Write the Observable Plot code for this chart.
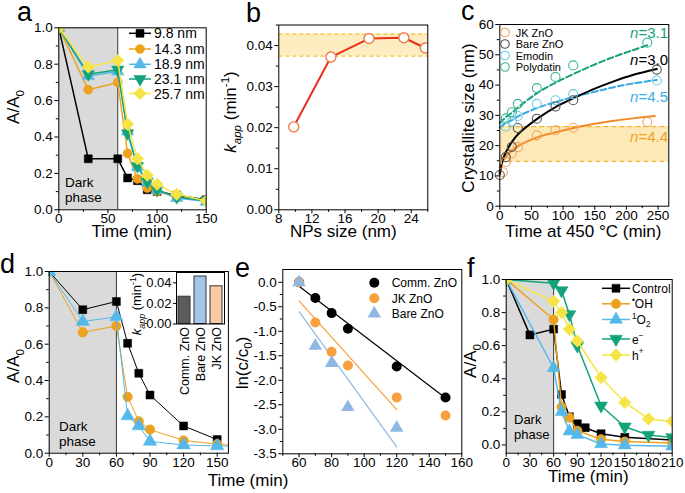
<!DOCTYPE html>
<html><head><meta charset="utf-8">
<script src="https://cdn.jsdelivr.net/npm/d3@7"></script>
<script src="https://cdn.jsdelivr.net/npm/@observablehq/plot@0.6"></script>
<style>
body{margin:0;background:#fff;}
#fig{position:relative;width:685px;height:493px;overflow:hidden;background:#fff;}
</style></head><body><div id="fig"></div>
<script>
// ================= DATA =================
const darkPhase = [0, 60];

// panel a
const aTime = [0,30,60,70,80,90,100,120,150];
const aLabels = ["9.8 nm","14.3 nm","18.9 nm","23.1 nm","25.7 nm"];
const a_9_8  = [1.00,0.28,0.28,0.175,0.16,0.11,0.10,0.08,0.055];
const a_14_3 = [1.00,0.66,0.70,0.31,0.17,0.12,0.10,0.07,0.05];
const a_18_9 = [1.00,0.735,0.76,0.43,0.235,0.15,0.11,0.065,0.045];
const a_23_1 = [1.00,0.745,0.77,0.42,0.24,0.155,0.11,0.07,0.05];
const a_25_7 = [1.00,0.785,0.82,0.47,0.28,0.19,0.14,0.085,0.05];
const aXTicks = [0,50,100,150], aXMinor = [25,75,125];
const aYTicks = [0,0.2,0.4,0.6,0.8,1.0], aYMinor = [0.1,0.3,0.5,0.7,0.9];

// panel b
const bSize = [9.8,14.3,18.9,23.1,25.7];
const bKapp = [0.0202,0.0372,0.0417,0.0419,0.0394];
const bBand = [0.0374,0.0428];
const bXTicks = [8,12,16,20,24], bXMinor = [10,14,18,22,26];
const bYTicks = [0,0.01,0.02,0.03,0.04], bYMinor = [0.005,0.015,0.025,0.035,0.045];

// panel c
const cLabels = ["JK ZnO","Bare ZnO","Emodin","Polydatin"];
const cTimeJK = [5,9.5,19,28.5,58.5,88,116,233];
const cJK     = [11.2,14.6,17.4,19.5,23.4,25.1,25.9,27.8];
const cTimeBare = [0,9.5,19,28.5,58.5,88,116,248];
const cBare   = [10.3,16.2,19.6,25.8,28.9,32.9,35.0,45.1];
const cTimeEmo = [9.5,19,28.5,58.5,88,116,248];
const cEmodin = [26.3,28.0,29.8,33.8,35.0,37.0,41.5];
const cTimePoly = [9.5,19,28.5,58.5,88,116,233];
const cPoly   = [29.0,31.0,33.8,39.0,42.7,46.5,54.0];
// fitted curves
const cFitTBare = [0,5,10,20,30,60,90,120,150,180,210,248];
const cFitBare  = [10.5,15.5,18.0,21.5,24.0,29.0,33.0,36.0,38.8,41.2,43.3,45.3];
const cFitTJK   = [0,5,10,20,30,60,90,120,150,180,210,245];
const cFitJK    = [13.0,15.0,16.5,18.5,20.0,22.8,24.5,26.0,27.2,28.2,29.0,29.8];
const cFitTEmo  = [0,5,10,20,30,60,90,120,150,180,210,248];
const cFitEmo   = [26.0,26.8,27.5,28.5,29.8,32.5,34.5,36.3,37.8,39.3,40.5,41.7];
const cFitTPoly = [0,5,10,20,30,60,90,120,150,180,210,235];
const cFitPoly  = [27.5,28.5,29.5,31.0,32.8,37.5,41.0,44.0,46.8,49.3,51.5,53.3];
const cBand = [14.8,26.3];
const cExponents = ["3.1","3.0","4.5","4.4"];
const cXTicks = [0,50,100,150,200,250], cXMinor = [25,75,125,175,225];
const cYTicks = [0,10,20,30,40,50,60], cYMinor = [5,15,25,35,45,55];

// panel d
const dTime = [0,30,60,70,80,90,120,150,180];
const dComm = [1.00,0.79,0.835,0.605,0.44,0.32,0.15,0.075,null];
const dJK   = [1.00,0.665,0.70,0.31,0.175,0.13,0.07,0.05,0.035];
const dBare = [1.00,0.725,0.75,0.205,0.15,0.065,0.045,0.04,0.035];
const dXTicks = [0,30,60,90,120,150], dXMinor = [15,45,75,105,135];
const insetCats = ["Comm. ZnO","Bare ZnO","JK ZnO"];
const insetK = [0.0265,0.0461,0.0366];
const insetYTicks = [0,0.02,0.04];

// panel e
const eLabels = ["Comm. ZnO","JK ZnO","Bare ZnO"];
const eTimeComm = [60,70,80,90,120,150];
const eComm = [0,-0.32,-0.63,-0.95,-1.72,-2.35];
const eTimeJK = [60,70,80,90,120,150];
const eJK = [0,-0.82,-1.42,-1.70,-2.35,-2.72];
const eTimeBare = [60,70,80,90,120];
const eBare = [0,-1.30,-1.65,-2.55,-2.97];
const eFitComm = [[60,-0.08],[150,-2.36]];
const eFitJK   = [[60,-0.38],[120,-2.60]];
const eFitBare = [[60,-0.60],[120,-3.36]];
const eXTicks = [60,80,100,120,140,160], eXMinor = [50,70,90,110,130,150];
const eYTicks = [0,-0.5,-1,-1.5,-2,-2.5,-3,-3.5], eYMinor = [-0.25,-0.75,-1.25,-1.75,-2.25,-2.75,-3.25];

// panel f
const fTimeCtrl = [0,30,60,70,80,90,100,120,150,210];
const fCtrl = [1.00,0.665,0.70,0.305,0.17,0.128,0.104,0.068,0.046,0.03];
const fTimeOH = [0,60,70,80,90,120,150,210];
const fOH = [1.00,0.758,0.23,0.165,0.085,0.034,0.02,0.012];
const fTimeO2 = [0,60,70,80,90,120,150,210];
const fO2 = [1.00,0.465,0.20,0.083,0.062,0.006,-0.002,-0.008];
const fTimeE = [0,60,70,80,90,120,150,180,210];
const fE = [1.00,0.978,0.934,0.789,0.60,0.237,0.11,0.06,0.045];
const fTimeH = [0,60,70,80,90,120,150,180,210];
const fH = [1.00,0.868,0.80,0.70,0.628,0.408,0.257,0.157,0.142];
const fXTicks = [0,30,60,90,120,150,180,210], fXMinor = [15,45,75,105,135,165,195];

// ================= STYLE =================
const W = 685, H = 493;
const FONT = "'Liberation Sans', Arial, Helvetica, sans-serif";
const ORANGE = "#eca21e", LBLUE = "#55b8ea", GREEN = "#14a27a", YELLOW = "#f6e446";
const fig = document.getElementById("fig");

const triDown = {draw(ctx, size){ const y = -Math.sqrt(size/(Math.sqrt(3)*3)); ctx.moveTo(0,-y*2); ctx.lineTo(-Math.sqrt(3)*y, y); ctx.lineTo(Math.sqrt(3)*y, y); ctx.closePath(); }};
const diamondSq = {draw(ctx, size){ const r = Math.sqrt(size/2); ctx.moveTo(0,-r); ctx.lineTo(r,0); ctx.lineTo(0,r); ctx.lineTo(-r,0); ctx.closePath(); }};
const SQ = d3.symbolSquare, CI = d3.symbolCircle, TR = d3.symbolTriangle;

const rows = (ts, vs) => ts.map((t,i) => ({t, v: vs[i]})).filter(d => d.v != null);
const f1 = d => d.toFixed(1), f2 = d => d.toFixed(2), f0 = d => String(d);

function axes(xM, xm, xf, yM, ym, yf) {
  return [
    Plot.axisX(xM, {tickSize: 4, tickPadding: 0, tickFormat: xf, label: null}),
    Plot.axisX(xm, {tickSize: 2.5, tickFormat: () => "", label: null}),
    Plot.axisY(yM, {tickSize: 4, tickPadding: 2, tickFormat: yf, label: null}),
    Plot.axisY(ym, {tickSize: 2.5, tickFormat: () => "", label: null})
  ];
}
function series(data, color, sym, r, lw = 1.5, extraDot = {}) {
  return [
    Plot.line(data, {x: "t", y: "v", stroke: color, strokeWidth: lw, clip: true}),
    Plot.dot(data, {x: "t", y: "v", symbol: sym, r, fill: color, stroke: color, strokeWidth: 0.5, clip: true, ...extraDot})
  ];
}
function panel(box, xd, yd, marks, extra = {}) {
  const svg = Plot.plot({
    width: W, height: H,
    marginLeft: box[0], marginTop: box[1], marginRight: W - box[2], marginBottom: H - box[3],
    x: {domain: xd, label: null, ...(extra.x || {})},
    y: {domain: yd, label: null, ...(extra.y || {})},
    color: {type: "identity"},
    style: {background: "transparent", fontFamily: FONT, fontSize: "13.5px", color: "#000", overflow: "visible", position: "absolute", left: "0px", top: "0px", maxWidth: "none"},
    marks
  });
  fig.appendChild(svg);
}
const darkMarks = () => [
  Plot.rect([darkPhase], {x1: d => d[0], x2: d => d[1], fill: "#dadada"}),
  Plot.ruleX([darkPhase[1]], {stroke: "#333", strokeWidth: 1})
];

// ---------- panel a ----------
panel([58.3, 27.3, 205.7, 209.3], [0,150], [0,1], [
  ...darkMarks(),
  ...series(rows(aTime, a_9_8), "#000", SQ, 4.5),
  ...series(rows(aTime, a_14_3), ORANGE, CI, 4.6),
  ...series(rows(aTime, a_18_9), LBLUE, TR, 4.6),
  ...series(rows(aTime, a_23_1), GREEN, triDown, 4.6),
  ...series(rows(aTime, a_25_7), YELLOW, diamondSq, 5),
  Plot.frame({stroke: "#000"}),
  ...axes(aXTicks, aXMinor, f0, aYTicks, aYMinor, f1)
]);

// ---------- panel b ----------
panel([278.3, 24.5, 427.3, 209.3], [8,26], [0,0.045], [
  Plot.rect([bBand], {y1: d => d[0], y2: d => d[1], fill: "#fdecc0"}),
  Plot.ruleY(bBand, {stroke: "#f5c033", strokeWidth: 1.3, strokeDasharray: "4,3"}),
  Plot.line(rows(bSize, bKapp), {x: "t", y: "v", stroke: "#e8301c", strokeWidth: 2}),
  Plot.dot(rows(bSize, bKapp), {x: "t", y: "v", r: 5, fill: "#fff", stroke: "#f27d4a", strokeWidth: 1.4, clip: true}),
  Plot.frame({stroke: "#000"}),
  ...axes(bXTicks, bXMinor, f0, bYTicks, bYMinor, f2)
]);

// ---------- panel c ----------
const cCols = {jk: "#f5a35c", bare: "#555", emo: "#6ccbe8", poly: "#3fb59b"};
panel([499.3, 24, 668.3, 205.7], [0,267], [0,60], [
  Plot.rect([cBand], {y1: d => d[0], y2: d => d[1], fill: "#fde9b8"}),
  Plot.ruleY(cBand, {stroke: "#f0b830", strokeWidth: 1.2, strokeDasharray: "5,3"}),
  Plot.line(rows(cFitTPoly, cFitPoly), {x: "t", y: "v", stroke: "#14a07a", strokeWidth: 2, strokeDasharray: "6,3", curve: "catmull-rom"}),
  Plot.line(rows(cFitTEmo, cFitEmo), {x: "t", y: "v", stroke: "#35a8e2", strokeWidth: 2, strokeDasharray: "6,3", curve: "catmull-rom"}),
  Plot.line(rows(cFitTJK, cFitJK), {x: "t", y: "v", stroke: "#f28a2a", strokeWidth: 2, curve: "catmull-rom"}),
  Plot.line(rows(cFitTBare, cFitBare), {x: "t", y: "v", stroke: "#000", strokeWidth: 2, curve: "catmull-rom"}),
  Plot.dot(rows(cTimeJK, cJK), {x: "t", y: "v", r: 4.5, stroke: cCols.jk, strokeWidth: 1.1}),
  Plot.dot(rows(cTimeBare, cBare), {x: "t", y: "v", r: 4.5, stroke: cCols.bare, strokeWidth: 1.1}),
  Plot.dot(rows(cTimeEmo, cEmodin), {x: "t", y: "v", r: 4.5, stroke: cCols.emo, strokeWidth: 1.1}),
  Plot.dot(rows(cTimePoly, cPoly), {x: "t", y: "v", r: 4.5, stroke: cCols.poly, strokeWidth: 1.1}),
  Plot.frame({stroke: "#000"}),
  ...axes(cXTicks, cXMinor, f0, cYTicks, cYMinor, f0)
]);

// ---------- panel d ----------
panel([48.7, 271, 227.9, 452.7], [0,160], [0,1], [
  ...darkMarks(),
  ...series(rows(dTime, dComm), "#000", SQ, 4.5, 1),
  ...series(rows(dTime, dJK), ORANGE, CI, 4.8, 1),
  ...series(rows(dTime, dBare), LBLUE, TR, 5, 1),
  Plot.frame({stroke: "#000"}),
  ...axes(dXTicks, dXMinor, f0, aYTicks, aYMinor, f1)
]);
// inset
panel([176, 272, 224, 323.5], insetCats, [0,0.05], [
  Plot.frame({fill: "#fff", stroke: null}),
  Plot.barY(insetCats.map((c,i) => ({c, k: insetK[i]})), {x: "c", y: "k", fill: d => ({"Comm. ZnO": "#5c5c5c", "Bare ZnO": "#a3c6e8", "JK ZnO": "#fdc9a0"})[d.c], stroke: "#333", strokeWidth: 1}),
  Plot.frame({stroke: "#000"}),
  Plot.axisY(insetYTicks, {tickSize: 3, tickPadding: 2, tickFormat: f2, label: null, fontSize: 13}),
  Plot.axisX({tickSize: 0, tickPadding: 3, tickRotate: -90, label: null, fontSize: 12.5})
], {x: {type: "band", paddingInner: 0.22, paddingOuter: 0.1}});

// ---------- panel e ----------
const EOR = "#f7a03d", EBL = "#8fb7e3";
panel([282.3, 269, 461.3, 453.3], [50,160], [-3.5,0.26], [
  Plot.line(eFitComm, {x: d => d[0], y: d => d[1], stroke: "#000", strokeWidth: 1.2}),
  Plot.line(eFitJK, {x: d => d[0], y: d => d[1], stroke: EOR, strokeWidth: 1.2}),
  Plot.line(eFitBare, {x: d => d[0], y: d => d[1], stroke: EBL, strokeWidth: 1.2}),
  Plot.dot(rows(eTimeComm, eComm), {x: "t", y: "v", r: 5, fill: "#000"}),
  Plot.dot(rows(eTimeJK, eJK), {x: "t", y: "v", r: 5, fill: EOR}),
  Plot.dot(rows(eTimeBare, eBare), {x: "t", y: "v", r: 5, symbol: TR, fill: EBL}),
  Plot.frame({stroke: "#000"}),
  ...axes(eXTicks, eXMinor, f0, eYTicks, eYMinor, f1)
]);

// ---------- panel f ----------
panel([505.7, 279, 671.7, 452.7], [0,210], [-0.05,1.0], [
  ...darkMarks(),
  ...series(rows(fTimeCtrl, fCtrl), "#000", SQ, 4.5),
  ...series(rows(fTimeOH, fOH), ORANGE, CI, 4.8),
  ...series(rows(fTimeO2, fO2), LBLUE, TR, 4.8),
  ...series(rows(fTimeE, fE), GREEN, triDown, 4.8),
  ...series(rows(fTimeH, fH), YELLOW, diamondSq, 5),
  Plot.frame({stroke: "#000"}),
  ...axes(fXTicks, fXMinor, f0, aYTicks, aYMinor, f1)
]);

// ================= TEXT OVERLAY (titles, legends) =================
const ov = d3.select(fig).append("svg").attr("width", W).attr("height", H)
  .style("position", "absolute").style("left", "0px").style("top", "0px")
  .attr("font-family", FONT);

function rich(sel, parts, size) {
  let shift = 0;
  for (const p of parts) {
    const [s, k = ""] = Array.isArray(p) ? p : [p, ""];
    let target = 0, fs = size;
    if (k.includes("sub")) { target = size * 0.28; fs = size * 0.68; }
    if (k.includes("sup")) { target = -size * 0.42; fs = size * 0.68; }
    const t = sel.append("tspan").text(s).attr("font-size", fs).attr("dy", target - shift);
    if (k.includes("i")) t.attr("font-style", "italic");
    shift = target;
  }
}
function txt(x, y, parts, {size = 17, anchor = "middle", rot = false, fill = "#000"} = {}) {
  const t = ov.append("text").attr("text-anchor", anchor).attr("fill", fill).attr("font-size", size)
    .attr("transform", `translate(${x},${y})` + (rot ? " rotate(-90)" : ""));
  rich(t, typeof parts === "string" ? [parts] : parts, size);
  return t;
}
function sym(x, y, type, r, fill, stroke, sw = 0.5) {
  ov.append("path").attr("transform", `translate(${x},${y})`)
    .attr("d", d3.symbol(type, Math.PI * r * r)()).attr("fill", fill).attr("stroke", stroke).attr("stroke-width", sw);
}

// panel letters
[["a",17,20.5],["b",246,21.7],["c",461,20],["d",0,273],["e",235,276.7],["f",467,276.7]]
  .forEach(([s,x,y]) => txt(x, y, s, {size: 27, anchor: "start"}));

// axis titles
const AA0 = ["A/A", ["0","sub"]];
txt(19, 107, AA0, {rot: true});
txt(131.7, 237, "Time (min)");
txt(236, 112, [["k","i"], ["app","sub i"], " (min", ["-1","sup"], ")"], {rot: true});
txt(343.3, 237, "NPs size (nm)");
txt(474, 118, "Crystallite size (nm)", {rot: true});
txt(583.3, 237, "Time at 450 °C (min)");
txt(19, 366, AA0, {rot: true});
txt(248, 486, "Time (min)");
txt(247.5, 363, ["ln(c/c", ["0","sub"], ")"], {rot: true});
txt(476, 361, AA0, {rot: true});
txt(588.3, 482, "Time (min)");
txt(141, 304, [["k","i"], ["app","sub i"], " (min", ["-1","sup"], ")"], {rot: true, size: 13});

// dark phase labels
txt(65, 186.7, "Dark", {size: 13.5, anchor: "start"});
txt(65, 201.5, "phase", {size: 13.5, anchor: "start"});
txt(59, 430.7, "Dark", {size: 13.5, anchor: "start"});
txt(59, 445.5, "phase", {size: 13.5, anchor: "start"});
txt(514, 424, "Dark", {size: 13, anchor: "start"});
txt(514, 439, "phase", {size: 13, anchor: "start"});

// legend a
const aLeg = [["#000", SQ, 4.5], [ORANGE, CI, 4.6], [LBLUE, TR, 4.6], [GREEN, triDown, 4.6], [YELLOW, diamondSq, 5]];
const aRowsY = [33.3, 49, 64.3, 79, 93.5];
aLeg.forEach(([c, s, r], i) => {
  const y = aRowsY[i];
  ov.append("line").attr("x1", 129).attr("x2", 151).attr("y1", y).attr("y2", y).attr("stroke", c).attr("stroke-width", 1.5);
  sym(140, y, s, r, c, c);
  txt(154, y + 5, aLabels[i], {size: 14, anchor: "start"});
});

// legend c
const cLegCols = [cCols.jk, cCols.bare, cCols.emo, cCols.poly];
const cRowsY = [32.5, 44, 55.5, 67];
cLabels.forEach((l, i) => {
  sym(505, cRowsY[i], CI, 4.3, "none", cLegCols[i], 1.1);
  txt(515.7, cRowsY[i] + 4, l, {size: 11, anchor: "start"});
});
// exponents in c
const cExpY = [38.3, 65, 101.7, 141.7], cExpCol = ["#14a07a", "#000", "#3aaee8", "#e9a41e"];
cExponents.forEach((n, i) => txt(668, cExpY[i], [["n","i"], "=" + n], {size: 15, anchor: "end", fill: cExpCol[i]}));

// legend e
const eLeg = [["#000", CI], [EOR, CI], [EBL, TR]];
const eRowsY = [282.7, 298.3, 313.5];
eLabels.forEach((l, i) => {
  sym(374.3, eRowsY[i], eLeg[i][1], 5, eLeg[i][0], "none");
  txt(391.7, eRowsY[i] + 4.5, l, {size: 12, anchor: "start"});
});

// legend f
const fLeg = [["#000", SQ, 4.5, ["Control"]], [ORANGE, CI, 4.8, [["•","sup"], "OH"]], [LBLUE, TR, 4.8, [["1","sup"], "O", ["2","sub"]]],
              [GREEN, triDown, 4.8, ["e", ["−","sup"]]], [YELLOW, diamondSq, 5, ["h", ["+","sup"]]]];
const fRowsY = [288.3, 303.8, 319.5, 339, 355];
fLeg.forEach(([c, s, r, lab], i) => {
  const y = fRowsY[i];
  ov.append("line").attr("x1", 602).attr("x2", 630).attr("y1", y).attr("y2", y).attr("stroke", c).attr("stroke-width", 1.5);
  sym(616, y, s, r, c, c);
  txt(632, y + 4.5, lab, {size: 12, anchor: "start"});
});
</script></body></html>
